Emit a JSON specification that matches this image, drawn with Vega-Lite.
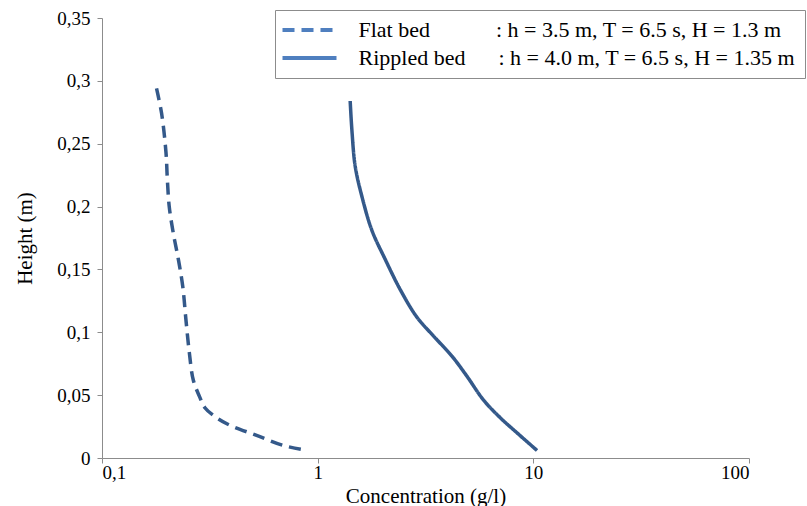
{
  "$schema": "https://vega.github.io/schema/vega-lite/v6.json",
  "width": 647,
  "height": 440,
  "autosize": "none",
  "padding": {"left": 102, "top": 18, "right": 58, "bottom": 48},
  "background": "white",
  "config": {
    "view": {"stroke": null},
    "font": "Liberation Serif",
    "axis": {"labelFont": "Liberation Serif", "titleFont": "Liberation Serif"},
    "legend": {"labelFont": "Liberation Serif"}
  },
  "data": {
    "values": [
      {"series": "Flat bed", "i": 1, "conc": 0.179, "height": 0.294},
      {"series": "Flat bed", "i": 2, "conc": 0.189, "height": 0.274},
      {"series": "Flat bed", "i": 3, "conc": 0.198, "height": 0.243},
      {"series": "Flat bed", "i": 4, "conc": 0.201, "height": 0.221},
      {"series": "Flat bed", "i": 5, "conc": 0.205, "height": 0.200},
      {"series": "Flat bed", "i": 6, "conc": 0.214, "height": 0.179},
      {"series": "Flat bed", "i": 7, "conc": 0.226, "height": 0.158},
      {"series": "Flat bed", "i": 8, "conc": 0.237, "height": 0.136},
      {"series": "Flat bed", "i": 9, "conc": 0.245, "height": 0.110},
      {"series": "Flat bed", "i": 10, "conc": 0.254, "height": 0.084},
      {"series": "Flat bed", "i": 11, "conc": 0.265, "height": 0.062},
      {"series": "Flat bed", "i": 12, "conc": 0.283, "height": 0.049},
      {"series": "Flat bed", "i": 13, "conc": 0.300, "height": 0.040},
      {"series": "Flat bed", "i": 14, "conc": 0.340, "height": 0.032},
      {"series": "Flat bed", "i": 15, "conc": 0.392, "height": 0.026},
      {"series": "Flat bed", "i": 16, "conc": 0.521, "height": 0.018},
      {"series": "Flat bed", "i": 17, "conc": 0.693, "height": 0.010},
      {"series": "Flat bed", "i": 18, "conc": 0.837, "height": 0.007},
      {"series": "Rippled bed", "i": 1, "conc": 1.415, "height": 0.284},
      {"series": "Rippled bed", "i": 2, "conc": 1.441, "height": 0.261},
      {"series": "Rippled bed", "i": 3, "conc": 1.493, "height": 0.232},
      {"series": "Rippled bed", "i": 4, "conc": 1.604, "height": 0.208},
      {"series": "Rippled bed", "i": 5, "conc": 1.785, "height": 0.181},
      {"series": "Rippled bed", "i": 6, "conc": 2.057, "height": 0.158},
      {"series": "Rippled bed", "i": 7, "conc": 2.414, "height": 0.134},
      {"series": "Rippled bed", "i": 8, "conc": 2.886, "height": 0.112},
      {"series": "Rippled bed", "i": 9, "conc": 3.446, "height": 0.097},
      {"series": "Rippled bed", "i": 10, "conc": 4.195, "height": 0.081},
      {"series": "Rippled bed", "i": 11, "conc": 4.924, "height": 0.065},
      {"series": "Rippled bed", "i": 12, "conc": 5.882, "height": 0.046},
      {"series": "Rippled bed", "i": 13, "conc": 7.029, "height": 0.032},
      {"series": "Rippled bed", "i": 14, "conc": 8.403, "height": 0.020},
      {"series": "Rippled bed", "i": 15, "conc": 10.40, "height": 0.006}
    ]
  },
  "mark": {"type": "line", "strokeWidth": 3.5, "color": "#34598A", "interpolate": "catmull-rom"},
  "encoding": {
    "x": {
      "field": "conc",
      "type": "quantitative",
      "scale": {"type": "log", "domain": [0.1, 100], "nice": false},
      "axis": {
        "title": "Concentration (g/l)",
        "values": [0.1, 1, 10, 100],
        "labelExpr": "replace(format(datum.value, '~g'), '.', ',')",
        "grid": false,
        "domainColor": "#8c8c8c",
        "tickColor": "#8c8c8c",
        "tickSize": 5,
        "labelFont": "Liberation Serif",
        "labelFontSize": 19,
        "labelColor": "#000000",
        "labelPadding": 0,
        "titleFont": "Liberation Serif",
        "titleFontSize": 21,
        "titleFontWeight": "normal",
        "titleColor": "#000000",
        "titleY": 44,
        "titleBaseline": "alphabetic"
      }
    },
    "y": {
      "field": "height",
      "type": "quantitative",
      "scale": {"domain": [0, 0.35], "nice": false},
      "axis": {
        "title": "Height (m)",
        "values": [0, 0.05, 0.1, 0.15, 0.2, 0.25, 0.3, 0.35],
        "labelExpr": "replace(format(datum.value, '.2~f'), '.', ',')",
        "grid": false,
        "domainColor": "#8c8c8c",
        "tickColor": "#8c8c8c",
        "tickSize": 5,
        "labelFont": "Liberation Serif",
        "labelFontSize": 19,
        "labelColor": "#000000",
        "labelPadding": 7,
        "titleFont": "Liberation Serif",
        "titleFontSize": 21,
        "titleFontWeight": "normal",
        "titleColor": "#000000",
        "titlePadding": 21
      }
    },
    "strokeDash": {
      "field": "series",
      "type": "nominal",
      "scale": {"domain": ["Flat bed", "Rippled bed"], "range": [[12, 7], [1, 0]]},
      "legend": {
        "title": null,
        "orient": "none",
        "legendX": 173,
        "legendY": -8,
        "direction": "vertical",
        "symbolType": "M-3,0H3",
        "symbolSize": 324,
        "symbolStrokeWidth": 4,
        "symbolStrokeColor": "#4F7FBF",
        "symbolFillColor": "transparent",
        "symbolOffset": 14.5,
        "labelFont": "Liberation Serif",
        "labelFontSize": 22,
        "labelColor": "#000000",
        "labelLimit": 800,
        "labelOffset": 38,
        "rowPadding": 6,
        "padding": 9,
        "strokeColor": "#8c8c8c",
        "fillColor": "#ffffff",
        "labelExpr": "datum.label == 'Flat bed' ? 'Flat bed\u00a0\u00a0\u00a0\u00a0\u00a0\u00a0\u00a0\u00a0\u00a0\u00a0\u00a0\u00a0: h = 3.5 m, T = 6.5 s, H = 1.3 m' : 'Rippled bed\u00a0\u00a0\u00a0\u00a0\u00a0\u00a0: h = 4.0 m, T = 6.5 s, H = 1.35 m'",
        "encode": {
          "symbols": {
            "update": {
              "strokeDash": {"signal": "datum.value == 'Flat bed' ? [19, 13] : [1, 0]"}
            }
          }
        }
      }
    },
    "order": {"field": "i", "type": "quantitative"}
  }
}
